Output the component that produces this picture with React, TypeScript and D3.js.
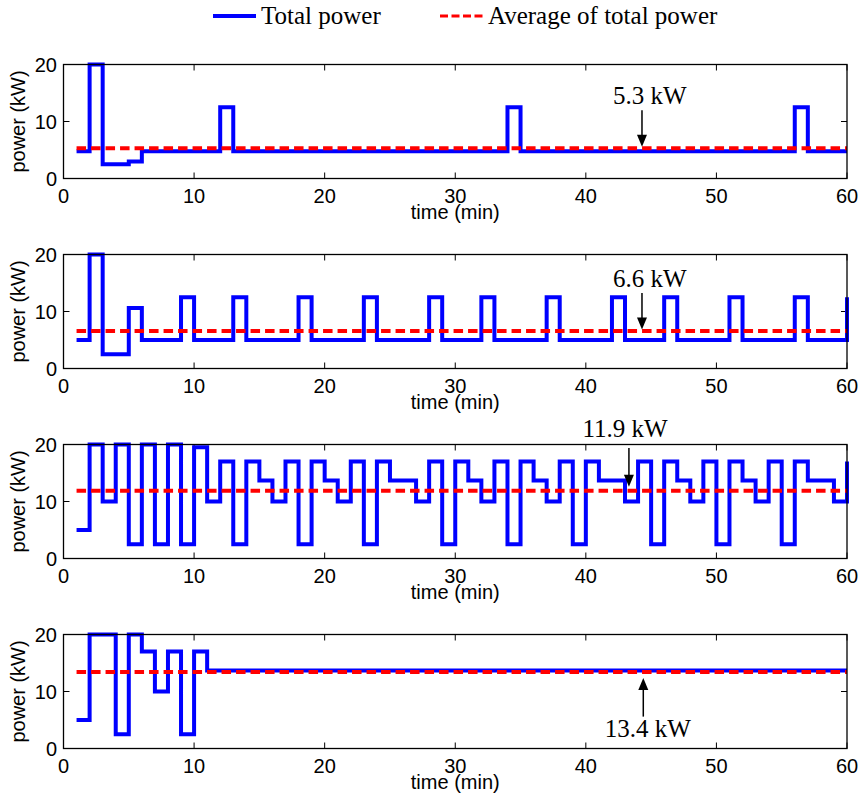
import React from 'react';
import * as d3 from 'd3';

// ---------- data ----------
const timeTicks = [0, 10, 20, 30, 40, 50, 60];
const powerTicks = [0, 10, 20];

// power (kW) for each minute t = 1..60 (step held from t to t+1; last value is the end point at 60)
const power1 = [
  4.8, 20, 2.5, 2.5, 3, 4.8, 4.8, 4.8, 4.8, 4.8,
  4.8, 12.5, 4.8, 4.8, 4.8, 4.8, 4.8, 4.8, 4.8, 4.8,
  4.8, 4.8, 4.8, 4.8, 4.8, 4.8, 4.8, 4.8, 4.8, 4.8,
  4.8, 4.8, 4.8, 12.5, 4.8, 4.8, 4.8, 4.8, 4.8, 4.8,
  4.8, 4.8, 4.8, 4.8, 4.8, 4.8, 4.8, 4.8, 4.8, 4.8,
  4.8, 4.8, 4.8, 4.8, 4.8, 12.5, 4.8, 4.8, 4.8, 4.8,
];
const power2 = [
  5, 20, 2.5, 2.5, 10.6, 5, 5, 5, 12.5, 5,
  5, 5, 12.5, 5, 5, 5, 5, 12.5, 5, 5,
  5, 5, 12.5, 5, 5, 5, 5, 12.5, 5, 5,
  5, 12.5, 5, 5, 5, 5, 12.5, 5, 5, 5,
  5, 12.5, 5, 5, 5, 12.5, 5, 5, 5, 5,
  12.5, 5, 5, 5, 5, 12.5, 5, 5, 5, 12.5,
];
const power3 = [
  5, 20, 10, 20, 2.5, 20, 2.5, 20, 2.5, 19.5,
  10, 17, 2.5, 17, 13.7, 10, 17, 2.5, 17, 13.7,
  10, 17, 2.5, 17, 13.7, 13.7, 10, 17, 2.5, 17,
  13.7, 10, 17, 2.5, 17, 13.7, 10, 17, 2.5, 17,
  13.7, 13.7, 10, 17, 2.5, 17, 13.7, 10, 17, 2.5,
  17, 13.7, 10, 17, 2.5, 17, 13.7, 13.7, 10, 17,
];
const power4 = [
  5, 20, 20, 2.5, 20, 17, 10, 17, 2.5, 17,
  13.7, 13.7, 13.7, 13.7, 13.7, 13.7, 13.7, 13.7, 13.7, 13.7,
  13.7, 13.7, 13.7, 13.7, 13.7, 13.7, 13.7, 13.7, 13.7, 13.7,
  13.7, 13.7, 13.7, 13.7, 13.7, 13.7, 13.7, 13.7, 13.7, 13.7,
  13.7, 13.7, 13.7, 13.7, 13.7, 13.7, 13.7, 13.7, 13.7, 13.7,
  13.7, 13.7, 13.7, 13.7, 13.7, 13.7, 13.7, 13.7, 13.7, 13.7,
];
const seriesList = [power1, power2, power3, power4];
const averages = [5.3, 6.6, 11.9, 13.4];
const averageLabels = ['5.3 kW', '6.6 kW', '11.9 kW', '13.4 kW'];
const arrowTimes = [44.3, 44.3, 43.3, 44.4];
const labelTimes = [44.9, 44.9, 43.0, 44.75];

const legendLabels = ['Total power', 'Average of total power'];

// ---------- layout ----------
const W = 858;
const H = 803;
const X0 = 63.5;
const X1 = 847;
const PANEL_TOP = 64.5;
const PANEL_STEP = 190;
const PANEL_H = 114;
const BLUE = '#0000ff';
const RED = '#ff0000';
const SANS = "'Liberation Sans', Arimo, Arial, sans-serif";
const SERIF = "'Liberation Serif', Tinos, 'Times New Roman', serif";

function SText(props: {
  x: number; y: number; children: React.ReactNode; anchor?: string;
  size: number; family: string; rotate?: number;
}) {
  const { x, y, children, anchor = 'start', size, family, rotate = 0 } = props;
  return (
    <text
      transform={`translate(${x},${y}) rotate(${rotate})`}
      textAnchor={anchor}
      style={{ fontFamily: family, fontSize: size }}
      fill="#000"
    >
      {children}
    </text>
  );
}

function Panel({ index }: { index: number }) {
  const top = PANEL_TOP + index * PANEL_STEP;
  const bottom = top + PANEL_H;
  const x = d3.scaleLinear().domain([0, 60]).range([X0, X1]);
  const y = d3.scaleLinear().domain([0, 20]).range([bottom, top]);
  const data = seriesList[index];
  const pts: [number, number][] = data.map((v, i) => [i + 1, v]);
  const line = d3
    .line<[number, number]>()
    .x((d) => x(d[0]))
    .y((d) => y(d[1]))
    .curve(d3.curveStepAfter);
  const avg = averages[index];
  const ay = y(avg);
  const ax = x(arrowTimes[index]);
  const lx = x(labelTimes[index]);
  const tickLen = 6;

  let annotation: React.ReactNode;
  if (index < 3) {
    const tipY = index === 2 ? ay - 4 : ay - 1.5;
    const startY = index === 2 ? top + 3.5 : ay - 38;
    const textY = index === 2 ? top - 7.5 : ay - 44;
    annotation = (
      <g>
        <line x1={ax} x2={ax} y1={startY} y2={tipY - 10} stroke="#000" strokeWidth={1.5} />
        <path d={`M${ax - 5},${tipY - 12} L${ax + 5},${tipY - 12} L${ax},${tipY} Z`} fill="#000" />
        <SText x={lx} y={textY} anchor="middle" size={25} family={SERIF}>{averageLabels[index]}</SText>
      </g>
    );
  } else {
    const tipY = ay + 6;
    annotation = (
      <g>
        <line x1={ax} x2={ax} y1={tipY + 10} y2={ay + 44.5} stroke="#000" strokeWidth={1.5} />
        <path d={`M${ax - 5},${tipY + 12} L${ax + 5},${tipY + 12} L${ax},${tipY} Z`} fill="#000" />
        <SText x={lx} y={ay + 64.5} anchor="middle" size={25} family={SERIF}>{averageLabels[index]}</SText>
      </g>
    );
  }

  return (
    <g>
      {/* ticks */}
      {timeTicks.map((t) => (
        <g key={'xt' + t}>
          <line x1={x(t)} x2={x(t)} y1={bottom} y2={bottom - tickLen} stroke="#000" strokeWidth={1} />
          <line x1={x(t)} x2={x(t)} y1={top} y2={top + tickLen} stroke="#000" strokeWidth={1} />
          <SText x={x(t)} y={bottom + 24.5} anchor="middle" size={20} family={SANS}>{t}</SText>
        </g>
      ))}
      {powerTicks.map((p) => (
        <g key={'yt' + p}>
          <line x1={X0} x2={X0 + tickLen} y1={y(p)} y2={y(p)} stroke="#000" strokeWidth={1} />
          <line x1={X1} x2={X1 - tickLen} y1={y(p)} y2={y(p)} stroke="#000" strokeWidth={1} />
          <SText x={57} y={y(p) + 7} anchor="end" size={20} family={SANS}>{p}</SText>
        </g>
      ))}
      {/* data */}
      <path d={line(pts) || ''} fill="none" stroke={BLUE} strokeWidth={4} strokeLinejoin="miter" />
      <line x1={x(1)} x2={x(60)} y1={ay} y2={ay} stroke={RED} strokeWidth={4} strokeDasharray="9.5 5" />
      {/* box */}
      <rect x={X0} y={top} width={X1 - X0} height={PANEL_H} fill="none" stroke="#000" strokeWidth={1.3} />
      {/* labels */}
      <SText x={(X0 + X1) / 2} y={bottom + 40} anchor="middle" size={20} family={SANS}>time (min)</SText>
      <SText x={25} y={(top + bottom) / 2} anchor="middle" size={20} family={SANS} rotate={-90}>power (kW)</SText>
      {annotation}
    </g>
  );
}

export default function App() {
  return (
    <svg width={W} height={H} style={{ display: 'block', position: 'absolute', left: 0, top: 0 }}>
      <rect width={W} height={H} fill="#fff" />
      {/* legend */}
      <line x1={213} x2={256} y1={16} y2={16} stroke={BLUE} strokeWidth={4} />
      <SText x={261} y={24} size={25} family={SERIF}>{legendLabels[0]}</SText>
      <line x1={440} x2={484} y1={16} y2={16} stroke={RED} strokeWidth={3} strokeDasharray="8 3.5" />
      <SText x={488} y={24} size={25} family={SERIF}>{legendLabels[1]}</SText>
      {[0, 1, 2, 3].map((i) => (
        <Panel key={i} index={i} />
      ))}
    </svg>
  );
}
